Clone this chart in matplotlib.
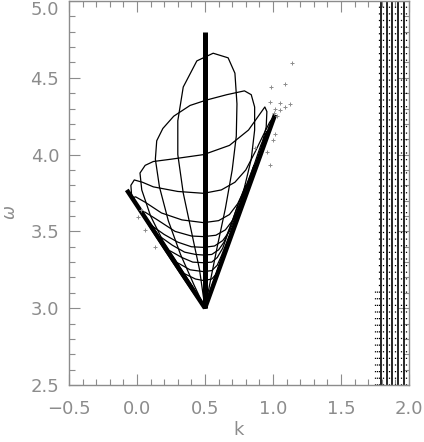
import matplotlib.pyplot as plt
import matplotlib.transforms as mtransforms
import numpy as np

# axis ticks
k_ticks = [-0.5, 0.0, 0.5, 1.0, 1.5, 2.0]
k_tick_labels = ['\u22120.5', '0.0', '0.5', '1.0', '1.5', '2.0']
w_ticks = [2.5, 3.0, 3.5, 4.0, 4.5, 5.0]
w_tick_labels = ['2.5', '3.0', '3.5', '4.0', '4.5', '5.0']

# thick lines
vert_x = [0.5, 0.5]
vert_y = [3.0, 4.8]
left_x = [0.5, -0.075]
left_y = [3.0, 3.77]
right_x = [0.5, 1.015]
right_y = [3.0, 4.26]

# thin loops (k, omega) from apex around and back
loops = [
    [(0.5, 3.0), (0.46, 3.25), (0.40, 3.50), (0.34, 3.75), (0.30, 4.00), (0.30, 4.22),
     (0.34, 4.44), (0.44, 4.61), (0.56, 4.66), (0.67, 4.63), (0.72, 4.53), (0.735, 4.33),
     (0.73, 4.12), (0.70, 3.90), (0.65, 3.65), (0.59, 3.40), (0.54, 3.18), (0.5, 3.0)],
    [(0.5, 3.0), (0.42, 3.15), (0.32, 3.35), (0.23, 3.57), (0.165, 3.79), (0.135, 3.97),
     (0.145, 4.09), (0.19, 4.17), (0.27, 4.25), (0.39, 4.32), (0.51, 4.355), (0.66, 4.39),
     (0.79, 4.415), (0.84, 4.39), (0.865, 4.31), (0.865, 4.16), (0.84, 3.97), (0.78, 3.75),
     (0.70, 3.52), (0.61, 3.26), (0.5, 3.0)],
    [(0.5, 3.0), (0.41, 3.14), (0.30, 3.29), (0.19, 3.44), (0.10, 3.60), (0.035, 3.77),
     (0.022, 3.88), (0.06, 3.93), (0.12, 3.955), (0.25, 3.97), (0.49, 4.00), (0.68, 4.06),
     (0.82, 4.16), (0.90, 4.26), (0.94, 4.31), (0.955, 4.28), (0.95, 4.18), (0.90, 4.00),
     (0.82, 3.80), (0.725, 3.58), (0.64, 3.37), (0.56, 3.17), (0.5, 3.0)],
    [(0.5, 3.0), (0.43, 3.08), (0.33, 3.21), (0.21, 3.37), (0.10, 3.52), (0.01, 3.65),
     (-0.04, 3.74), (-0.045, 3.80), (-0.02, 3.835), (0.04, 3.82), (0.12, 3.79), (0.30, 3.76),
     (0.49, 3.748), (0.62, 3.77), (0.72, 3.82), (0.80, 3.90), (0.87, 4.02), (0.93, 4.13),
     (0.975, 4.21), (0.995, 4.235), (0.98, 4.19), (0.945, 4.10), (0.89, 3.97), (0.82, 3.80),
     (0.74, 3.60), (0.655, 3.40), (0.575, 3.20), (0.5, 3.0)],
    [(0.5, 3.0), (0.41, 3.13), (0.285, 3.30), (0.135, 3.50), (0.02, 3.65), (-0.03, 3.72),
     (-0.01, 3.725), (0.06, 3.69), (0.18, 3.62), (0.33, 3.575), (0.49, 3.557), (0.60, 3.57),
     (0.68, 3.61), (0.74, 3.68), (0.80, 3.79), (0.86, 3.93), (0.91, 4.06), (0.945, 4.13),
     (0.955, 4.15), (0.92, 4.05), (0.86, 3.90), (0.785, 3.72), (0.705, 3.52), (0.628, 3.33),
     (0.555, 3.15), (0.5, 3.0)],
    [(0.5, 3.0), (0.427, 3.11), (0.315, 3.26), (0.195, 3.42), (0.09, 3.56), (0.035, 3.63),
     (0.06, 3.625), (0.15, 3.575), (0.28, 3.50), (0.40, 3.47), (0.49, 3.466), (0.58, 3.475),
     (0.65, 3.51), (0.71, 3.58), (0.77, 3.70), (0.83, 3.84), (0.88, 3.96), (0.91, 4.03),
     (0.92, 4.05), (0.893, 3.98), (0.833, 3.83), (0.763, 3.66), (0.682, 3.46), (0.608, 3.28),
     (0.548, 3.13), (0.5, 3.0)],
    [(0.5, 3.0), (0.435, 3.10), (0.33, 3.24), (0.225, 3.38), (0.128, 3.51), (0.095, 3.55),
     (0.12, 3.53), (0.20, 3.48), (0.30, 3.43), (0.40, 3.40), (0.49, 3.396), (0.57, 3.405),
     (0.63, 3.44), (0.68, 3.50), (0.73, 3.61), (0.79, 3.76), (0.84, 3.88), (0.86, 3.93),
     (0.84, 3.85), (0.78, 3.70), (0.705, 3.52), (0.633, 3.34), (0.56, 3.16), (0.5, 3.0)],
    [(0.5, 3.0), (0.435, 3.10), (0.337, 3.23), (0.24, 3.36), (0.157, 3.47), (0.18, 3.46),
     (0.26, 3.41), (0.35, 3.365), (0.43, 3.35), (0.49, 3.346), (0.55, 3.35), (0.60, 3.38),
     (0.64, 3.43), (0.68, 3.52), (0.73, 3.64), (0.78, 3.76), (0.80, 3.80), (0.79, 3.77),
     (0.74, 3.61), (0.67, 3.43), (0.60, 3.26), (0.545, 3.12), (0.5, 3.0)],
    [(0.5, 3.0), (0.435, 3.10), (0.345, 3.22), (0.224, 3.38), (0.25, 3.37), (0.33, 3.33),
     (0.41, 3.30), (0.49, 3.296), (0.55, 3.30), (0.59, 3.33), (0.63, 3.39), (0.67, 3.49),
     (0.71, 3.59), (0.74, 3.67), (0.75, 3.63), (0.69, 3.48), (0.62, 3.31), (0.56, 3.16),
     (0.5, 3.0)],
    [(0.5, 3.0), (0.427, 3.11), (0.285, 3.30), (0.31, 3.29), (0.39, 3.25), (0.49, 3.238),
     (0.55, 3.245), (0.59, 3.28), (0.62, 3.34), (0.66, 3.43), (0.69, 3.50), (0.70, 3.52),
     (0.673, 3.44), (0.617, 3.30), (0.555, 3.15), (0.5, 3.0)],
    [(0.5, 3.0), (0.413, 3.13), (0.337, 3.23), (0.36, 3.22), (0.43, 3.19), (0.49, 3.18),
     (0.55, 3.19), (0.59, 3.23), (0.615, 3.30), (0.655, 3.40), (0.61, 3.29), (0.56, 3.16),
     (0.5, 3.0)],
]

# scattered gray points
scat_k = [1.137, 0.987, 1.088, 0.980, 1.051, 1.125, 1.086, 1.015, 1.051, 1.007, 1.030,
          1.015, 1.002, 0.953, 0.980, 0.868, 0.059, 0.132, 0.010, 0.030]
scat_w = [4.596, 4.440, 4.462, 4.344, 4.338, 4.327, 4.312, 4.300, 4.290, 4.273, 4.250,
          4.135, 4.095, 4.019, 3.932, 4.040, 3.509, 3.400, 3.596, 3.640]

# right-hand columns
solid_k = [1.794, 1.835, 1.875, 1.919, 1.960]
dotted_k = [1.779, 1.812, 1.853, 1.897, 1.938, 1.978]
dotted_low_k = [1.750, 1.765]

fig = plt.figure(figsize=(4.24, 4.42), dpi=100)
ax = fig.add_axes([69 / 424, 1 - 385 / 442, 340 / 424, 384 / 442])

gray = '#8c8c8c'

for lp in loops:
    xs, ys = zip(*lp)
    ax.plot(xs, ys, color='black', lw=0.9)

ax.plot(vert_x, vert_y, color='black', lw=3.6, solid_capstyle='butt')
ax.plot(left_x, left_y, color='black', lw=3.2, solid_capstyle='butt')
ax.plot(right_x, right_y, color='black', lw=3.2, solid_capstyle='butt')

ax.plot(scat_k, scat_w, '+', color=gray, ms=2.5, mew=0.7)

for k in solid_k:
    ax.axvline(k, color='black', lw=1.2)
for k in dotted_k:
    ax.axvline(k, color='black', lw=0.9, linestyle=(0, (1, 4.3)))
for k in dotted_low_k:
    ax.axvline(k, ymax=0.25, color='black', lw=0.9, linestyle=(0, (1, 4.3)))

ax.set_xlim(-0.5, 2.0)
ax.set_ylim(2.5, 5.0)
ax.set_xticks(k_ticks)
ax.set_xticklabels(k_tick_labels)
ax.set_yticks(w_ticks)
ax.set_yticklabels(w_tick_labels)
ax.set_xticks(np.arange(-0.5, 2.0001, 0.1), minor=True)
ax.set_yticks(np.arange(2.5, 5.0001, 0.1), minor=True)
ax.tick_params(which='both', direction='in', top=True, right=True, color=gray,
               labelcolor=gray, labelsize=13)
ax.tick_params(axis='x', pad=11)
ax.tick_params(axis='y', pad=7)
ax.tick_params(which='major', length=8, width=0.8)
ax.tick_params(which='minor', length=4, width=0.8)
for s in ax.spines.values():
    s.set_color(gray)
    s.set_linewidth(1.0)

# keep the top tick label inside the figure
top_lbl = ax.get_yticklabels()[-1]
top_lbl.set_transform(top_lbl.get_transform() +
                      mtransforms.ScaledTranslation(0, -7 / 100, fig.dpi_scale_trans))

ax.set_xlabel('k', color=gray, fontsize=13)
ax.xaxis.set_label_coords(0.5, -0.095)
ax.set_ylabel(r'$\omega$', color=gray, fontsize=12)
ax.yaxis.set_label_coords(-0.148, 0.45)

fig.savefig('out.png', dpi=100)
